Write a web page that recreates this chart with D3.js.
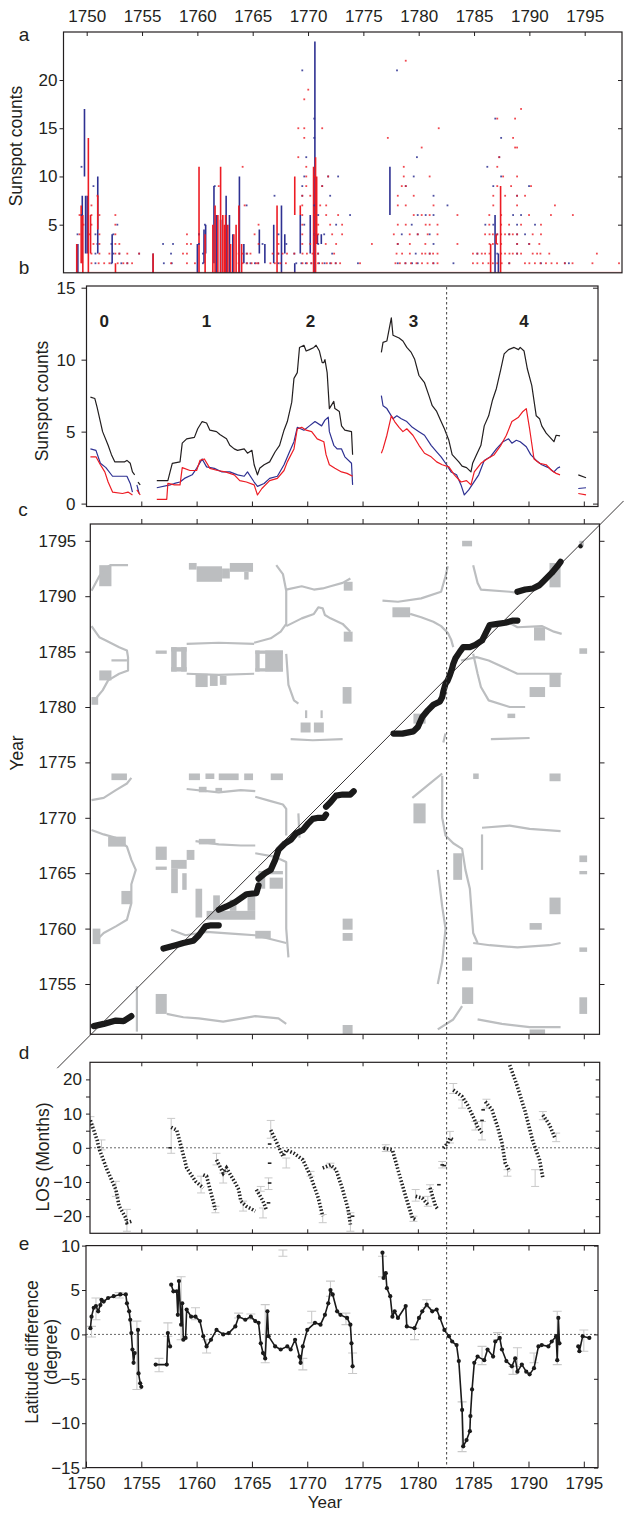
<!DOCTYPE html>
<html><head><meta charset="utf-8">
<script src="https://cdn.jsdelivr.net/npm/d3@7"></script>
<style>
body{margin:0;background:#fff}
svg{display:block}
text{font-family:"Liberation Sans",Arial,sans-serif;fill:#231f20}
</style></head>
<body><svg id="chart" width="624" height="1513"></svg>
<script>
// ---------------- DATA ----------------
const yearTicks = [1750,1755,1760,1765,1770,1775,1780,1785,1790,1795];
const innerYearTicks = [1755,1760,1765,1770,1775,1780,1785,1790,1795];
const cycleLabels = [["0",1751.65],["1",1760.9],["2",1770.3],["3",1779.6],["4",1789.6]];
const dividerYear = 1782.6;

// panel a: vertical spans [year, from, to]
const blueSpans = [[1749.2,0,3],[1749.6,1,8],[1749.8,10,17],[1749.9,2,8],[1750.05,2,8],[1751.0,2,10],[1752.3,1,4],[1756.0,0,2],[1760.0,0,3],[1760.6,1,4.5],[1760.75,2,5],[1761.5,1,9],[1761.7,0,6],[1762.1,0,5.5],[1762.6,0,8],[1762.9,0,6],[1763.2,0,4],[1763.8,0,10],[1764.2,1,3],[1765.6,2,4.5],[1766.1,1,3],[1766.9,1,5],[1767.6,0,7],[1767.9,2,4],[1768.8,0,1],[1769.3,2,6],[1770.2,2,6],[1770.62,0,24],[1770.85,3,4],[1771.2,3,4],[1777.4,6,11],[1786.9,0,6],[1787.2,0,2]];
const redSpans = [[1749.1,0,3],[1749.5,1,7],[1749.65,0,6],[1750.15,0,14],[1750.35,2,6],[1751.0,4.5,8],[1752.6,0,1],[1756.0,0,2],[1760.15,0,11],[1760.7,0,4],[1761.4,0,5],[1761.6,0,7],[1761.85,0,6],[1762.1,0,11],[1762.3,0,6],[1762.45,0,5],[1762.55,0,6],[1762.75,0,5],[1763.0,0,3],[1763.3,0,4],[1763.5,0,5],[1763.75,0,7],[1764.0,0,3],[1767.2,0,7],[1768.8,6,10],[1769.3,6,7],[1770.5,0,11],[1770.68,0,12],[1770.78,3,10],[1786.5,0,3],[1787.0,3,4],[1787.4,0,9]];
// panel a: single counts [year, count]
const redDots = [
[1750.43,1],[1751.08,1],[1751.58,1],[1752.05,1],[1752.8,1],[1753.31,1],[1753.67,1],[1754.1,1],[1757.62,1],[1759.06,1],[1759.78,1],[1763.73,1],[1764.1,1],[1764.5,1],[1764.9,1],[1765.3,1],[1765.5,1],[1766.6,1],[1767.0,1],[1767.5,1],[1768.0,1],[1769.5,1],[1769.9,1],[1770.3,1],[1770.9,1],[1771.3,1],[1771.7,1],[1772.1,1],[1772.5,1],[1772.9,1],[1774.7,1],[1777.9,1],[1778.3,1],[1778.8,1],[1779.3,1],[1779.8,1],[1780.3,1],[1780.8,1],[1781.3,1],[1781.7,1],[1784.9,1],[1785.3,1],[1785.8,1],[1786.3,1],[1786.7,1],[1787.1,1],[1787.5,1],[1788.2,1],[1789.6,1],[1790.0,1],[1790.5,1],[1791.0,1],[1791.5,1],[1792.0,1],[1792.5,1],[1793.2,1],[1793.9,1],[1795.7,1],[1798.1,1],
[1750.43,2],[1751.15,2],[1752.05,2],[1752.59,2],[1752.95,2],[1753.67,2],[1754.74,2],[1758.7,2],[1759.06,2],[1763.73,2],[1764.1,2],[1764.5,2],[1764.8,2],[1766.8,2],[1767.3,2],[1767.7,2],[1768.1,2],[1768.76,2],[1769.5,2],[1769.9,2],[1770.4,2],[1770.9,2],[1772.36,2],[1778.0,2],[1778.5,2],[1779.2,2],[1780.3,2],[1780.6,2],[1781.0,2],[1781.3,2],[1781.7,2],[1784.9,2],[1785.3,2],[1785.7,2],[1786.0,2],[1786.4,2],[1787.45,2],[1787.8,2],[1788.2,2],[1788.5,2],[1788.9,2],[1789.25,2],[1790.3,2],[1790.7,2],[1791.0,2],[1791.8,2],[1796.1,2],
[1750.61,3],[1751.15,3],[1752.59,3],[1752.95,3],[1759.06,3],[1759.42,3],[1765.53,3],[1767.33,3],[1769.48,3],[1770.2,3],[1771.6,3],[1772.54,3],[1775.77,3],[1778.1,3],[1779.2,3],[1780.6,3],[1783.5,3],[1786.4,3],[1786.7,3],[1787.1,3],[1787.45,3],[1788.9,3],[1790.0,3],[1790.9,3],
[1749.35,4],[1750.25,4],[1751.15,4],[1752.59,4],[1759.06,4],[1760.14,4],[1765.17,4],[1769.48,4],[1770.56,4],[1770.92,4],[1772.18,4],[1773.08,4],[1777.75,4],[1779.19,4],[1779.91,4],[1780.81,4],[1781.7,4],[1786.0,4],[1786.4,4],[1786.7,4],[1787.1,4],[1787.45,4],[1787.8,4],[1788.2,4],[1788.5,4],[1788.9,4],[1790.3,4],[1791.05,4],
[1749.71,5],[1750.43,5],[1752.59,5],[1765.53,5],[1769.48,5],[1770.92,5],[1772.0,5],[1773.08,5],[1778.11,5],[1778.83,5],[1780.63,5],[1780.99,5],[1781.7,5],[1786.38,5],[1787.45,5],[1788.17,5],[1789.25,5],[1791.05,5],
[1749.35,6],[1750.43,6],[1751.15,6],[1752.59,6],[1769.48,6],[1770.56,6],[1771.64,6],[1772.72,6],[1779.55,6],[1780.27,6],[1780.99,6],[1783.5,6],[1786.38,6],[1787.45,6],[1789.97,6],[1791.95,6],[1793.93,6],
[1750.43,7],[1764.27,7],[1769.48,7],[1771.1,7],[1771.64,7],[1778.11,7],[1778.83,7],[1781.34,7],[1786.74,7],[1788.89,7],[1792.31,7],
[1750.97,8],[1769.48,8],[1770.2,8],[1778.11,8],[1779.55,8],[1786.74,8],[1787.81,8],[1788.89,8],[1789.61,8],
[1761.93,9],[1769.84,9],[1771.28,9],[1778.47,9],[1778.83,9],[1787.1,9],[1788.35,9],[1790.15,9],
[1769.84,10],[1770.56,10],[1771.82,10],[1778.65,10],[1780.99,10],[1787.63,10],[1788.89,10],
[1764.09,11],[1769.84,11],[1778.65,11],[1787.1,11],
[1769.12,12],[1787.28,12],[1780.27,13],[1788.71,13],[1788.89,13],[1769.66,14],[1777.21,14],[1788.53,14],
[1769.12,15],[1769.66,15],[1771.28,15],[1781.81,15],[1787.1,16],[1788.71,16],[1789.25,17],[1769.66,18],[1770.02,19],[1778.83,22]];
const blueDots = [
[1750.79,1],[1752.23,1],[1753.13,1],[1753.67,1],[1756.97,1],[1757.69,1],[1760.5,1],[1764.45,1],[1764.8,1],[1765.2,1],[1765.5,1],[1767.33,1],[1768.94,1],[1769.4,1],[1769.8,1],[1770.3,1],[1771.0,1],[1771.5,1],[1772.0,1],[1772.5,1],[1774.51,1],[1778.11,1],[1778.8,1],[1779.4,1],[1779.91,1],[1781.34,1],[1783.14,1],[1788.17,1],[1791.05,1],[1793.21,1],[1793.57,1],
[1750.79,2],[1752.41,2],[1752.95,2],[1754.74,2],[1757.62,2],[1760.5,2],[1764.45,2],[1767.33,2],[1768.76,2],[1770.92,2],[1772.18,2],[1779.73,2],[1780.99,2],[1785.3,2],[1787.1,2],[1788.89,2],
[1750.97,3],[1752.23,3],[1756.9,3],[1757.8,3],[1760.14,3],[1765.89,3],[1768.04,3],[1770.92,3],[1778.11,3],[1781.34,3],[1788.89,3],[1789.97,3],
[1749.17,4],[1750.79,4],[1752.41,4],[1760.14,4],[1767.33,4],[1770.56,4],[1771.46,4],[1778.47,4],[1779.91,4],[1780.99,4],[1787.1,4],[1788.17,4],[1788.89,4],[1789.61,4],
[1752.77,5],[1760.68,5],[1769.66,5],[1772.54,5],[1779.37,5],[1786.02,5],[1786.74,5],[1788.89,5],[1790.51,5],
[1749.53,6],[1770.92,6],[1773.8,6],[1779.91,6],[1780.63,6],[1781.34,6],[1788.53,6],[1789.25,6],
[1764.45,7],[1770.56,7],[1782.6,7],[1766.97,8],[1769.48,8],[1772.0,8],[1781.34,8],[1788.89,8],
[1750.61,9],[1761.57,9],[1769.48,9],[1771.28,9],[1778.83,9],[1786.74,9],[1789.97,9],
[1769.66,10],[1771.82,10],[1772.72,10],[1779.55,10],[1787.45,10],[1749.53,11],[1786.2,11],
[1769.84,12],[1779.84,12],[1787.28,12],[1770.56,14],[1787.45,14],[1770.56,16],[1786.92,16],[1769.48,21],[1778.04,21]];

// panel b: running counts, one sub-array per unbroken stretch
const totalCounts = [
[[1750.4,7.4],[1750.8,7.3],[1751.0,6.7],[1751.5,5.0],[1752.0,4.05],[1752.3,3.4],[1752.6,2.9],[1753.5,2.9],[1753.7,3.0],[1754.0,2.8],[1754.2,2.2],[1754.4,2.0]],
[[1754.7,1.5],[1754.9,1.3]],
[[1756.4,1.6],[1757.4,1.6],[1757.6,2.2],[1757.8,2.8],[1758.5,2.9],[1758.7,4.2],[1759.1,4.5],[1759.8,4.6],[1760.1,5.2],[1760.5,5.7],[1760.9,5.6],[1761.2,5.1],[1761.8,5.0],[1762.1,4.8],[1762.7,4.5],[1763.0,4.05],[1763.4,3.8],[1763.7,3.7],[1764.3,3.8],[1764.6,3.5],[1765.0,3.7],[1765.2,2.7],[1765.5,2.0],[1765.7,2.45],[1766.1,2.7],[1766.6,2.9],[1767.1,3.6],[1767.5,4.05],[1767.9,5.1],[1768.2,5.7],[1768.6,7.05],[1768.8,8.7],[1769.1,9.1],[1769.3,10.85],[1769.7,11.0],[1769.9,10.6],[1770.2,10.7],[1770.6,10.85],[1770.8,11.0],[1771.1,10.6],[1771.35,9.8],[1771.5,9.8],[1771.6,10.0],[1771.8,9.1],[1772.0,6.6],[1772.4,7.1],[1772.5,6.6],[1772.9,6.4],[1773.1,5.4],[1773.4,5.1],[1774.0,5.0],[1774.1,3.4]],
[[1776.7,10.5],[1776.85,11.2],[1777.2,11.3],[1777.4,12.1],[1777.6,12.9],[1777.75,11.7],[1778.3,11.5],[1778.65,11.3],[1779.0,10.85],[1779.4,10.5],[1779.7,10.05],[1780.1,8.9],[1780.3,8.7],[1780.6,8.4],[1781.0,7.5],[1781.3,6.8],[1781.7,6.4],[1782.1,5.7],[1782.4,5.2],[1782.8,4.4],[1783.1,3.4],[1783.7,2.9],[1784.0,2.6],[1784.4,2.5],[1784.8,2.2],[1784.95,2.8],[1785.3,3.4],[1785.7,4.05],[1786.0,5.4],[1786.4,6.1],[1786.75,7.2],[1787.1,8.0],[1787.5,9.35],[1787.8,10.4],[1788.2,10.7],[1788.7,10.85],[1789.1,10.7],[1789.25,10.85],[1789.6,10.6],[1789.9,9.35],[1790.3,8.2],[1790.7,6.1],[1791.0,5.9],[1791.2,5.4],[1791.6,4.9],[1791.95,4.6],[1792.3,4.3],[1792.5,4.75],[1792.85,4.7]],
[[1794.5,2.0],[1795.2,1.8]]];
const northCounts = [
[[1750.4,3.8],[1750.9,3.7],[1751.3,2.8],[1751.8,2.5],[1752.4,1.9],[1753.7,1.9],[1754.0,1.4],[1754.2,0.8]],
[[1754.6,1.3],[1754.8,0.7]],
[[1756.4,1.1],[1757.6,1.3],[1758.0,1.4],[1758.5,1.5],[1758.9,1.75],[1759.6,2.0],[1760.0,2.45],[1760.5,3.1],[1760.9,2.55],[1761.6,2.45],[1762.3,2.2],[1763.0,2.2],[1763.7,2.0],[1764.3,1.9],[1764.6,2.2],[1765.2,1.5],[1765.5,1.2],[1766.1,1.4],[1766.6,1.75],[1767.3,1.9],[1767.9,2.7],[1768.4,3.6],[1768.8,4.3],[1769.1,5.3],[1769.7,5.1],[1770.2,5.4],[1770.7,5.7],[1771.3,5.4],[1771.6,5.8],[1771.9,6.0],[1772.0,5.0],[1772.4,4.05],[1772.7,3.8],[1773.1,3.8],[1773.4,3.25],[1774.0,2.8],[1774.1,1.3]],
[[1776.7,7.5],[1776.85,6.8],[1777.2,6.6],[1777.75,5.9],[1778.1,6.1],[1778.5,5.9],[1779.0,5.7],[1779.5,5.3],[1780.1,5.0],[1780.6,4.75],[1781.2,4.05],[1781.7,3.6],[1782.1,3.25],[1782.6,2.7],[1783.0,2.2],[1783.5,2.0],[1783.9,1.3],[1784.2,0.6],[1784.6,0.95],[1784.9,1.3],[1785.5,2.0],[1786.0,3.0],[1786.55,3.25],[1787.1,3.8],[1787.7,4.3],[1788.2,4.5],[1788.5,4.2],[1788.9,4.4],[1789.25,4.3],[1789.8,3.95],[1790.2,3.4],[1790.7,3.0],[1791.2,2.7],[1791.8,2.5],[1792.3,2.2],[1792.6,2.45],[1792.85,2.55]],
[[1794.5,1.05],[1795.2,1.1]]];
const southCounts = [
[[1750.4,3.25],[1750.9,3.25],[1751.3,2.7],[1751.7,2.2],[1752.0,1.5],[1752.4,0.8],[1753.3,0.7],[1753.8,0.8],[1754.2,0.6]],
[[1754.6,0.95],[1754.9,0.6]],
[[1756.4,0.3],[1757.3,0.3],[1757.4,1.4],[1758.0,1.3],[1758.5,1.3],[1758.7,2.5],[1759.4,2.3],[1760.0,2.3],[1760.3,3.0],[1760.7,3.1],[1761.2,2.45],[1761.9,2.3],[1762.6,2.2],[1763.4,2.0],[1763.9,1.6],[1764.5,1.5],[1765.2,1.3],[1765.5,0.6],[1765.9,1.05],[1766.6,1.6],[1767.3,1.75],[1767.9,2.3],[1768.2,2.9],[1768.8,3.8],[1769.1,5.2],[1769.5,5.3],[1769.9,5.1],[1770.4,5.0],[1770.9,4.5],[1771.5,4.3],[1771.7,3.4],[1772.0,2.7],[1772.5,2.45],[1773.1,2.2],[1773.6,2.1],[1774.1,1.9]],
[[1776.7,3.5],[1776.85,3.8],[1777.2,4.75],[1777.6,6.1],[1777.9,5.7],[1778.3,5.3],[1778.65,5.0],[1779.0,5.2],[1779.55,4.75],[1780.1,4.05],[1780.6,3.5],[1781.2,3.25],[1781.7,2.9],[1782.2,2.7],[1782.8,2.55],[1783.3,2.0],[1783.9,1.5],[1784.4,1.6],[1784.8,1.3],[1785.1,2.2],[1785.7,2.8],[1786.25,3.1],[1786.9,3.4],[1787.5,4.05],[1788.0,4.75],[1788.5,5.7],[1789.1,6.0],[1789.5,6.4],[1789.8,6.6],[1790.1,5.2],[1790.5,3.1],[1791.0,2.8],[1791.6,2.7],[1792.1,2.3],[1792.5,2.1],[1792.85,2.0]],
[[1794.5,0.7],[1795.2,0.6]]];

// panel c: grey regions (year x, year y)
const greyCurves = [
[[1750.5,1790.5],[1751.2,1791.8],[1751.8,1792.5],[1752.2,1792.8],[1753.8,1792.8]],
[[1750.5,1787.3],[1751.2,1786.3],[1751.8,1786.0],[1753.0,1785.4],[1753.7,1785.1],[1753.8,1784.5],[1753.8,1783.3],[1753.0,1783.0],[1752.0,1782.4],[1751.5,1781.5],[1751.0,1780.9],[1750.7,1780.3]],
[[1752.3,1784.2],[1753.7,1784.2]],
[[1759.1,1785.7],[1762.0,1785.8],[1765.2,1785.7]],
[[1759.1,1783.0],[1762.0,1782.9],[1765.2,1783.0]],
[[1765.2,1785.8],[1766.7,1786.2],[1767.6,1786.8],[1768.1,1787.5],[1768.1,1790.5],[1767.8,1792.0],[1767.2,1792.8]],
[[1768.1,1790.6],[1769.5,1790.9],[1770.6,1790.6],[1771.4,1790.7],[1772.1,1790.9],[1773.2,1791.2],[1773.9,1791.6]],
[[1768.1,1787.3],[1769.5,1788.0],[1770.6,1788.4],[1771.0,1789.0],[1771.4,1788.9],[1771.6,1788.3],[1772.1,1788.0],[1773.2,1787.5],[1773.9,1786.8]],
[[1768.1,1784.8],[1768.3,1782.0],[1768.8,1780.6],[1769.2,1780.3]],
[[1768.5,1777.1],[1770.5,1777.0],[1773.2,1777.1]],
[[1776.8,1789.6],[1778.2,1789.5],[1780.3,1789.8],[1782.1,1790.4],[1782.5,1791.8],[1782.7,1792.7]],
[[1779.3,1788.4],[1780.3,1788.1],[1781.4,1787.7],[1782.1,1787.3],[1782.7,1786.7],[1783.0,1786.1],[1783.2,1785.4]],
[[1785.0,1792.8],[1785.4,1791.2],[1785.7,1790.6],[1788.3,1790.4],[1789.0,1790.3]],
[[1787.9,1787.8],[1789.0,1787.2],[1791.2,1787.3],[1792.3,1786.8],[1793.0,1786.6]],
[[1783.9,1784.2],[1785.3,1784.5],[1786.4,1784.2],[1789.0,1783.0],[1791.8,1783.0],[1793.0,1783.0]],
[[1785.0,1784.8],[1785.4,1783.0],[1785.7,1781.8],[1786.4,1780.6],[1788.3,1780.0],[1789.7,1780.0]],
[[1786.6,1777.1],[1790.1,1777.2]],
[[1782.3,1776.8],[1782.5,1777.6]],
[[1750.5,1771.6],[1751.6,1771.8],[1752.7,1772.5],[1753.7,1773.1],[1754.1,1773.6]],
[[1759.1,1772.6],[1762.0,1772.3],[1764.0,1772.5],[1765.3,1772.4]],
[[1765.3,1771.9],[1766.7,1771.5],[1767.8,1771.2],[1768.1,1770.8],[1768.1,1768.4]],
[[1769.2,1770.4],[1769.3,1768.2]],
[[1750.5,1768.9],[1751.6,1768.5],[1752.7,1768.2],[1753.7,1767.4],[1754.1,1766.2],[1754.5,1765.3],[1754.1,1764.0],[1754.1,1762.3],[1753.7,1760.8],[1752.7,1760.2],[1751.6,1759.6],[1751.1,1759.1],[1751.1,1758.6]],
[[1759.9,1767.9],[1762.0,1767.6],[1764.0,1767.5],[1765.3,1767.5]],
[[1765.3,1766.8],[1767.0,1766.5],[1768.1,1766.0],[1768.1,1760.0],[1768.3,1757.4]],
[[1757.7,1759.9],[1759.0,1759.4],[1760.9,1759.7],[1763.8,1759.5],[1765.3,1759.4],[1768.1,1758.7]],
[[1757.3,1752.3],[1758.8,1752.0],[1760.2,1751.9],[1762.4,1751.6],[1765.3,1752.1],[1767.4,1751.9],[1768.1,1751.4]],
[[1779.5,1771.8],[1781.1,1773.1],[1782.2,1774.0]],
[[1782.2,1773.8],[1782.2,1770.0],[1782.5,1768.4],[1783.2,1767.7],[1784.0,1767.2],[1784.3,1765.3],[1784.7,1763.6],[1785.0,1759.6],[1785.4,1758.7]],
[[1781.8,1765.3],[1782.2,1762.0],[1782.5,1760.0],[1782.2,1757.0],[1781.8,1755.0]],
[[1785.8,1769.1],[1788.3,1769.3],[1790.1,1769.0],[1792.9,1768.8]],
[[1785.8,1768.5],[1785.8,1765.3]],
[[1785.0,1758.7],[1786.5,1758.5],[1789.0,1758.3],[1791.9,1758.5],[1792.9,1758.7]],
[[1781.8,1750.9],[1783.2,1751.8],[1784.0,1753.0]],
[[1785.4,1751.8],[1787.6,1751.4],[1790.1,1751.1],[1792.9,1751.1]]];
// [x0, x1, y0, y1] in years
const greyBlocks = [
[1751.2,1752.3,1790.9,1792.8],[1751.2,1752.3,1782.4,1783.3],[1750.5,1751.1,1780.2,1780.9],[1756.3,1757.3,1784.8,1785.1],
[1757.7,1758.2,1783.2,1785.4],[1758.6,1759.1,1783.2,1785.4],[1757.7,1759.1,1785.0,1785.4],[1757.7,1759.1,1783.2,1783.6],
[1759.9,1761.0,1781.8,1783.0],[1761.2,1761.9,1781.9,1782.9],[1762.1,1762.7,1782.0,1782.8],
[1765.3,1765.7,1783.2,1785.1],[1766.2,1767.8,1783.2,1785.1],[1765.3,1767.8,1784.8,1785.1],[1765.3,1767.8,1783.2,1783.5],
[1759.3,1760.0,1792.4,1793.0],[1760.0,1762.3,1791.3,1792.7],[1762.3,1763.0,1791.6,1792.5],[1763.0,1765.1,1792.2,1793.0],[1764.3,1764.7,1791.5,1792.2],
[1773.3,1774.1,1790.5,1791.3],[1773.3,1774.1,1785.9,1786.8],[1773.2,1774.0,1780.3,1781.8],
[1769.4,1770.3,1777.7,1778.6],[1770.6,1771.5,1777.7,1778.6],[1769.8,1770.0,1779.0,1779.7],[1771.2,1771.4,1779.0,1779.7],
[1777.7,1779.3,1788.1,1789.0],[1784.0,1784.9,1794.5,1795.0],[1791.9,1792.9,1790.8,1793.0],[1790.5,1791.5,1786.0,1787.2],
[1790.1,1791.5,1780.9,1781.8],[1791.9,1792.9,1781.8,1783.0],[1788.1,1788.8,1779.0,1779.4],[1794.6,1795.3,1784.8,1785.3],[1794.6,1795.0,1794.5,1795.0],
[1779.6,1780.7,1778.5,1779.4],
[1752.3,1753.7,1773.4,1774.0],[1759.3,1760.3,1773.4,1774.0],[1760.8,1761.6,1773.5,1774.0],[1762.0,1763.8,1773.4,1774.0],[1764.3,1765.1,1773.4,1774.0],[1766.7,1767.8,1773.4,1774.0],[1791.9,1792.9,1773.3,1774.0],[1785.0,1785.5,1773.5,1774.0],
[1760.2,1760.9,1772.3,1772.8],[1761.7,1762.3,1772.4,1772.7],
[1752.0,1753.6,1767.4,1768.3],[1753.2,1754.1,1762.2,1763.4],[1750.6,1751.3,1758.6,1760.0],
[1756.3,1757.3,1766.2,1767.4],[1756.3,1757.3,1765.3,1765.6],
[1757.7,1759.1,1765.4,1766.2],[1757.7,1758.3,1763.2,1765.4],[1758.7,1759.1,1763.5,1765.0],[1759.1,1759.8,1766.2,1767.1],
[1760.2,1761.7,1767.6,1768.1],
[1759.9,1760.5,1761.0,1763.6],[1760.9,1765.3,1760.8,1761.6],[1761.5,1762.1,1761.6,1763.0],[1763.0,1763.6,1761.6,1762.6],[1764.6,1765.3,1761.6,1763.4],
[1765.6,1766.2,1763.6,1765.2],[1766.6,1767.8,1763.6,1764.6],[1765.6,1767.8,1764.9,1765.2],
[1765.3,1766.7,1759.1,1759.8],[1773.2,1774.1,1759.9,1760.9],[1773.2,1774.1,1758.9,1759.6],
[1756.3,1757.3,1752.3,1754.1],[1754.5,1754.7,1750.7,1754.8],[1773.2,1774.1,1750.5,1751.3],
[1779.6,1780.7,1769.5,1771.3],[1783.2,1784.0,1764.4,1766.8],
[1790.1,1791.2,1759.9,1760.5],[1791.9,1792.9,1761.3,1762.8],
[1784.0,1784.9,1756.2,1757.4],[1784.0,1785.0,1753.2,1754.7],
[1794.6,1795.3,1766.0,1766.6],[1794.6,1795.3,1764.9,1765.2],[1794.6,1795.3,1757.9,1758.3],[1794.6,1795.3,1752.3,1753.8],[1790.1,1791.5,1750.5,1750.9]];
// panel c: black path segments (year x, year y)
const matchPath = [
[[1750.7,1751.2],[1751.6,1751.4],[1752.7,1751.7],[1753.4,1751.65],[1754.1,1752.1]],
[[1757.0,1758.2],[1758.1,1758.5],[1758.8,1758.7],[1759.7,1758.9],[1760.2,1759.4],[1760.8,1760.2],[1761.3,1760.3],[1762.0,1760.3]],
[[1762.0,1761.7],[1762.7,1762.0],[1763.5,1762.4],[1764.5,1763.1],[1765.4,1763.2],[1765.6,1763.9]],
[[1765.6,1764.5],[1766.2,1765.0],[1766.7,1765.3],[1767.1,1766.2],[1767.4,1767.1],[1768.0,1767.7],[1768.5,1768.0],[1769.0,1768.6],[1769.6,1768.9],[1770.1,1769.5],[1770.5,1769.9],[1771.0,1770.0],[1771.5,1770.0],[1771.7,1770.3]],
[[1771.7,1771.0],[1772.1,1771.4],[1772.6,1772.0],[1773.2,1772.1],[1773.9,1772.1],[1774.2,1772.4]],
[[1777.8,1777.6],[1778.6,1777.6],[1779.6,1777.8],[1780.0,1778.2],[1780.4,1779.1],[1780.9,1779.7],[1781.4,1780.2],[1782.0,1780.5],[1782.2,1780.9],[1782.3,1781.4],[1782.5,1782.1],[1782.7,1782.4],[1782.9,1782.9],[1783.1,1783.5],[1783.2,1783.9],[1783.4,1784.4],[1783.8,1785.0],[1784.1,1785.4],[1784.7,1785.4],[1785.2,1785.6],[1785.8,1786.0],[1786.1,1786.6],[1786.5,1787.4],[1787.2,1787.5],[1787.9,1787.6],[1788.6,1787.8],[1789.0,1787.8]],
[[1789.0,1790.4],[1789.7,1790.6],[1790.4,1790.7],[1791.0,1791.0],[1791.5,1791.5],[1792.1,1792.1],[1792.6,1792.7],[1792.9,1793.1]],
[[1794.7,1794.5]]];
const diagonalYears = [1747.4,1798.6];

// panel d: LOS (months)
const losRuns = [
[[1750.4,8.0],[1751.0,2.3],[1751.2,-0.4],[1751.9,-6.4],[1752.7,-12.2],[1753.0,-17.1],[1753.6,-20.5],[1753.7,-21.9],[1754.1,-21.5]],
[[1757.7,6.0],[1758.2,5.2],[1758.6,0.4],[1759.1,-5.9],[1759.9,-9.8],[1760.6,-11.7]],
[[1760.6,-7.9],[1760.9,-8.3],[1761.7,-18.1]],
[[1761.8,-3.5],[1762.4,-7.4],[1762.7,-5.9],[1763.5,-10.3],[1763.8,-12.2],[1764.0,-15.6],[1764.5,-17.1],[1765.3,-18.5]],
[[1765.4,-12.2],[1766.0,-15.6],[1766.3,-18.1]],
[[1766.7,5.2],[1767.2,1.8],[1767.8,-2.5],[1768.1,-0.6],[1768.8,-1.6],[1769.6,-3.5],[1770.3,-8.3],[1771.0,-14.7],[1771.4,-20.0]],
[[1771.4,-5.9],[1772.1,-5.0],[1772.6,-6.4],[1773.2,-12.2],[1773.7,-18.1],[1773.9,-22.4]],
[[1776.9,-0.1],[1777.7,-0.6],[1778.2,-6.4],[1778.9,-14.2],[1779.5,-20.5],[1779.8,-21.0]],
[[1779.8,-14.2],[1780.4,-14.7],[1780.9,-16.6]],
[[1781.1,-11.7],[1781.6,-17.1],[1781.8,-17.9]],
[[1782.3,-0.1],[1782.7,1.4],[1782.9,2.8],[1783.2,2.3]],
[[1783.2,16.9],[1784.0,15.0],[1784.5,12.5],[1785.0,9.1],[1785.4,6.2],[1785.8,4.3]],
[[1786.1,13.5],[1786.7,11.1],[1787.2,6.2],[1787.6,1.4],[1787.9,-4.5],[1788.3,-6.9]],
[[1788.3,24.2],[1789.0,17.9],[1789.7,10.6],[1790.4,1.8],[1791.0,-3.5],[1791.3,-8.8]],
[[1791.3,9.6],[1791.9,6.7],[1792.4,2.8]]];
const losSingles = [[1757.6,0],[1766.5,-16.1],[1766.6,-10.3],[1766.6,-4.5],[1766.6,1.1],[1774.1,-20.0],[1781.9,-10.8],[1782.2,-5.0],[1782.4,-5.2],[1785.8,8.0],[1785.9,11.1]];
const losErrors = [[1750.4,6.7,9.1],[1751.4,-0.6,2.3],[1752.7,-14.2,-9.8],[1753.7,-24.4,-18],[1757.7,-1.6,8.6],[1760.4,-13.2,-8.3],[1761.7,-19,-17.1],[1761.8,-5.0,-1.6],[1762.4,-10.3,-7.4],[1764.2,-18.5,-15.6],[1765.8,-12.7,-11.3],[1766.0,-20.5,-17.6],[1766.5,-12.2,-8.8],[1766.7,2.8,8.0],[1768.1,-5.9,-3.0],[1770.3,-8.3,-6.9],[1771.4,-21.9,-19.5],[1772.1,-5.9,-4.5],[1773.9,-24.4,-19],[1777.1,-1.1,0.9],[1779.6,-21.5,-20],[1779.8,-15.6,-12.2],[1780.9,-17.1,-14.2],[1781.1,-12.2,-10.8],[1782.2,-5.9,-4.0],[1782.9,1.4,4.8],[1783.2,15.9,18.8],[1784.0,11.6,14.0],[1785.2,5.2,7.7],[1785.8,2.3,7.7],[1786.2,11.6,14.2],[1788.1,-8.3,-6.4],[1790.6,-11.3,-6.4],[1791.3,8.2,10.6],[1792.5,1.8,4.3]];

// panel e: latitude difference (degree)
const latRuns = [
[[1750.4,0.7],[1750.5,2.0],[1750.7,3.0],[1750.9,3.2],[1751.1,2.6],[1751.3,3.3],[1751.4,3.9],[1751.6,3.7],[1752.0,4.1],[1752.5,4.3],[1753.1,4.5],[1753.6,4.5],[1753.7,3.5],[1753.9,2.6],[1754.0,1.65],[1754.1,0.15],[1754.2,-1.7],[1754.3,-3.2],[1754.4,-2.1]],
[[1754.7,0.5],[1754.75,-4.4],[1754.9,-5.5],[1755.0,-5.9]],
[[1756.3,-3.4],[1757.3,-3.4],[1757.4,0.15],[1757.6,-1.35]],
[[1757.7,5.6],[1757.9,4.85],[1758.2,4.85],[1758.3,2.2],[1758.4,6.0],[1758.6,1.1],[1758.7,3.5],[1758.8,-0.6],[1759.0,-0.4],[1759.1,2.8],[1759.5,2.0],[1759.9,2.0],[1760.3,1.5],[1760.6,-0.2],[1760.9,-1.35],[1761.3,-0.6],[1761.8,0.5],[1762.4,0],[1762.9,0.15],[1763.5,0.9],[1763.8,2.0],[1764.4,1.65],[1764.9,2.0],[1765.3,1.5],[1765.6,1.3],[1765.8,-1.0],[1766.0,-2.1],[1766.2,-2.7],[1766.4,2.6],[1766.5,-0.2],[1767.1,-1.35],[1767.6,-1.7],[1768.2,-1.35],[1768.5,-1.7],[1768.9,-0.6],[1769.3,-2.5],[1769.4,-3.2],[1769.6,-1.35],[1770.0,0.5],[1770.7,1.3],[1771.2,1.1],[1771.6,2.2],[1771.9,3.5],[1772.1,5.0],[1772.3,4.5],[1772.7,2.6],[1773.0,2.2],[1773.6,1.85],[1773.9,1.1],[1774.0,-1.0],[1774.1,-3.6]],
[[1776.8,9.2],[1776.9,6.35],[1777.1,6.9],[1777.2,5.2],[1777.5,4.3],[1777.7,2.0],[1777.9,2.6],[1778.2,1.85],[1778.9,3.2],[1779.0,0.9],[1779.7,0.7],[1780.1,1.85],[1780.4,2.6],[1780.8,3.35],[1781.3,2.6],[1781.7,2.8],[1782.0,1.85],[1782.4,0.5],[1782.8,-0.2],[1783.1,-0.8],[1783.5,-1.2],[1783.7,-3.0],[1784.0,-8.5],[1784.1,-12.6],[1784.4,-11.9],[1784.7,-10.9],[1784.75,-9.2],[1784.9,-6.2],[1785.1,-3.2],[1785.4,-2.5],[1786.0,-2.9],[1786.3,-1.7],[1786.8,-2.5],[1787.0,-0.8],[1787.4,-0.4],[1787.6,-1.7],[1788.0,-3.0],[1788.5,-3.6],[1788.8,-2.7],[1789.0,-4.2],[1789.4,-3.4],[1789.8,-4.2],[1790.1,-4.5],[1790.5,-3.8],[1790.9,-1.35],[1791.2,-1.2],[1791.8,-1.35],[1792.1,-0.8],[1792.5,-0.2],[1792.6,-2.9],[1792.7,1.85],[1792.8,-1.0]],
[[1794.5,-1.35],[1794.6,-1.9],[1794.9,-0.2],[1795.5,-0.4]]];
const latErrors = [[1750.5,-0.3,0.9],[1750.9,1.65,4.1],[1753.0,4.1,4.7],[1754.6,-6.2,1.5],[1756.6,-4.2,-2.7],[1757.4,-0.2,1.3],[1758.6,-0.6,6.5],[1759.9,1.65,3.0],[1760.9,-2.1,-0.6],[1763.8,1.85,2.4],[1764.9,1.7,2.3],[1766.2,-3.2,3.35],[1767.8,8.8,9.5],[1769.6,-4.0,-2.7],[1770.4,1.3,2.6],[1772.1,4.3,6.0],[1773.5,1.1,2.4],[1774.1,-4.4,-2.1],[1776.8,6.5,8.8],[1779.7,-0.6,0.7],[1780.8,3.0,3.9],[1784.0,-13.2,-7.6],[1785.8,-3.4,-1.35],[1787.2,-0.6,0.2],[1788.6,-4.5,-3.6],[1789.0,-3.6,-1.5],[1790.5,-3.2,-2.1],[1792.6,-3.4,2.6],[1795.0,-1.9,0.5]];

// ---------------- DRAWING ----------------
const ink = "#231f20", blue = "#2e3192", red = "#ed1c24", grey = "#bcbec0", errGrey = "#c9c9c9";
const FONT = '"Liberation Sans", Arial, sans-serif';
const svg = d3.select("#chart");

const x = d3.scaleLinear().domain([1750,1795]).range([86,583.8]);
const xa = d3.scaleLinear().domain([1750,1795]).range([86.7,584.7]);

const pa = {l:63.5, r:622, t:32, b:272.8};
const pb = {l:86.5, r:598, t:286, b:506.5};
const pc = {l:90.3, r:599.5, t:524, b:1034.3};
const pd = {l:90, r:599.7, t:1062.3, b:1233.3};
const pe = {l:86, r:598, t:1245.6, b:1467.6};

const ya = d3.scaleLinear().domain([0,25]).range([272.9,31.8]);
const yb = d3.scaleLinear().domain([0,15]).range([503.6,287.7]);
const yc = d3.scaleLinear().domain([1750,1795]).range([1039.4,540.8]);
const yd = d3.scaleLinear().domain([-25,25]).range([1233.3,1062.3]);
const ye = d3.scaleLinear().domain([-15,10]).range([1467.6,1245.6]);

const defs = svg.append("defs");
function clip(id,p){ defs.append("clipPath").attr("id",id).append("rect").attr("x",p.l).attr("y",p.t).attr("width",p.r-p.l).attr("height",p.b-p.t); }
clip("ca",pa); clip("cb",pb); clip("cc",pc); clip("cd",pd); clip("ce",pe);

function styleAxis(g, fs){
  g.select(".domain").remove();
  g.attr("font-size",fs).attr("font-family",FONT);
  g.selectAll("line").attr("stroke",ink).attr("stroke-width",1);
  g.selectAll("text").attr("fill",ink);
}
function frame(p){
  svg.append("rect").attr("x",p.l).attr("y",p.t).attr("width",p.r-p.l).attr("height",p.b-p.t)
    .attr("fill","none").attr("stroke",ink).attr("stroke-width",1.2);
}
function letter(t,cx,cy){
  svg.append("text").attr("x",cx).attr("y",cy).attr("text-anchor","middle").attr("dominant-baseline","central")
    .attr("font-size",19).text(t);
}
function yTitle(lines,cx,cy){
  const t = svg.append("text").attr("transform",`translate(${cx},${cy}) rotate(-90)`).attr("text-anchor","middle").attr("font-size",17.5);
  lines.forEach((s,i)=>t.append("tspan").attr("x",0).attr("dy", i===0 ? (-(lines.length-1)*0.55+0.35)+"em" : "1.1em").text(s));
}

// ---- Panel a ----
{
  const g = svg.append("g").attr("clip-path","url(#ca)");
  g.selectAll(".bs").data(blueSpans).join("line")
    .attr("x1",d=>xa(d[0])).attr("x2",d=>xa(d[0])).attr("y1",d=>ya(d[1])).attr("y2",d=>ya(d[2]))
    .attr("stroke",blue).attr("stroke-width",1.6);
  g.selectAll(".rs").data(redSpans).join("line")
    .attr("x1",d=>xa(d[0])).attr("x2",d=>xa(d[0])).attr("y1",d=>ya(d[1])).attr("y2",d=>ya(d[2]))
    .attr("stroke",red).attr("stroke-width",1.6);
  g.selectAll(".bd").data(blueDots).join("rect")
    .attr("x",d=>xa(d[0])-0.9).attr("y",d=>ya(d[1])-0.9).attr("width",1.8).attr("height",1.8).attr("fill",blue).attr("opacity",0.85);
  g.selectAll(".rd").data(redDots).join("rect")
    .attr("x",d=>xa(d[0])-0.9).attr("y",d=>ya(d[1])-0.9).attr("width",1.8).attr("height",1.8).attr("fill",red).attr("opacity",0.8);
  g.append("line").attr("x1",xa(1749)).attr("x2",xa(1798.4)).attr("y1",ya(0)-0.6).attr("y2",ya(0)-0.6).attr("stroke",red).attr("stroke-width",0.8).attr("opacity",0.6);

  svg.append("g").attr("transform",`translate(0,${pa.t})`)
    .call(d3.axisTop(xa).tickValues(yearTicks).tickFormat(d3.format("d")).tickSize(-4).tickPadding(10))
    .call(g=>styleAxis(g,17));
  svg.append("g").attr("transform",`translate(${pa.l},0)`)
    .call(d3.axisLeft(ya).tickValues([5,10,15,20]).tickSize(4).tickPadding(2))
    .call(g=>styleAxis(g,17));
  svg.append("g").attr("transform",`translate(${pa.r},0)`)
    .call(d3.axisRight(ya).tickValues([5,10,15,20]).tickSize(-4).tickFormat(""))
    .call(g=>styleAxis(g,17));
  frame(pa);
  yTitle(["Sunspot counts"],16,146);
  letter("a",24,34);
}

// ---- Panel b ----
{
  const g = svg.append("g").attr("clip-path","url(#cb)");
  const ln = d3.line().x(d=>x(d[0])).y(d=>yb(d[1]));
  [[totalCounts,ink],[northCounts,blue],[southCounts,red]].forEach(([runs,col])=>{
    g.append("g").selectAll("path").data(runs).join("path")
      .attr("d",ln).attr("fill","none").attr("stroke",col).attr("stroke-width",1.2).attr("stroke-linejoin","round");
  });
  svg.append("g").selectAll("text").data(cycleLabels).join("text")
    .attr("x",d=>x(d[1])).attr("y",321).attr("text-anchor","middle").attr("dominant-baseline","central")
    .attr("font-size",17).attr("font-weight","bold").text(d=>d[0]);
  svg.append("g").attr("transform",`translate(0,${pb.b})`)
    .call(d3.axisBottom(x).tickValues(innerYearTicks).tickSize(-5).tickFormat(""))
    .call(g=>styleAxis(g,17));
  svg.append("g").attr("transform",`translate(${pb.l},0)`)
    .call(d3.axisLeft(yb).tickValues([0,5,10,15]).tickSize(5).tickPadding(6))
    .call(g=>styleAxis(g,17));
  svg.append("g").attr("transform",`translate(${pb.r},0)`)
    .call(d3.axisRight(yb).tickValues([0,5,10,15]).tickSize(-5).tickFormat(""))
    .call(g=>styleAxis(g,17));
  frame(pb);
  yTitle(["Sunspot counts"],42,401);
  letter("b",24,267);
}

// ---- Panel c ----
{
  const g = svg.append("g").attr("clip-path","url(#cc)");
  g.append("g").selectAll("rect").data(greyBlocks).join("rect")
    .attr("x",d=>x(d[0])).attr("y",d=>yc(d[3])).attr("width",d=>x(d[1])-x(d[0])).attr("height",d=>yc(d[2])-yc(d[3]))
    .attr("fill",grey);
  const ln = d3.line().x(d=>x(d[0])).y(d=>yc(d[1]));
  g.append("g").selectAll("path").data(greyCurves).join("path")
    .attr("d",ln).attr("fill","none").attr("stroke",grey).attr("stroke-width",2.2).attr("stroke-linejoin","round");
  svg.append("line").attr("x1",x(diagonalYears[0])).attr("y1",yc(diagonalYears[0]))
    .attr("x2",x(diagonalYears[1])).attr("y2",yc(diagonalYears[1])).attr("stroke",ink).attr("stroke-width",0.9);
  g.append("g").selectAll("path").data(matchPath).join("path")
    .attr("d",d=> d.length>1 ? ln(d) : `M${x(d[0][0])},${yc(d[0][1])}l0.01,0`)
    .attr("fill","none").attr("stroke","#1a1a1a").attr("stroke-linecap","round").attr("stroke-linejoin","round")
    .attr("stroke-width",(d)=> d.length>1 ? 6.2 : 4.5);
  svg.append("g").attr("transform",`translate(0,${pc.t})`)
    .call(d3.axisTop(x).tickValues(innerYearTicks).tickSize(5).tickFormat(""))
    .call(g=>styleAxis(g,17));
  svg.append("g").attr("transform",`translate(0,${pc.b})`)
    .call(d3.axisBottom(x).tickValues(innerYearTicks).tickSize(5).tickFormat(""))
    .call(g=>styleAxis(g,17));
  svg.append("g").attr("transform",`translate(${pc.l},0)`)
    .call(d3.axisLeft(yc).tickValues(innerYearTicks).tickSize(5).tickPadding(9).tickFormat(d3.format("d")))
    .call(g=>styleAxis(g,17));
  svg.append("g").attr("transform",`translate(${pc.r},0)`)
    .call(d3.axisRight(yc).tickValues(innerYearTicks).tickSize(5).tickFormat(""))
    .call(g=>styleAxis(g,17));
  frame(pc);
  yTitle(["Year"],17,753);
  letter("c",23,509);
}

// ---- Panel d ----
{
  const g = svg.append("g").attr("clip-path","url(#cd)");
  g.append("line").attr("x1",pd.l).attr("x2",pd.r).attr("y1",yd(0)).attr("y2",yd(0))
    .attr("stroke","#555").attr("stroke-width",0.9).attr("stroke-dasharray","2,2");
  const eg = g.append("g").attr("stroke",errGrey).attr("stroke-width",1);
  losErrors.forEach(d=>{
    eg.append("line").attr("x1",x(d[0])).attr("x2",x(d[0])).attr("y1",yd(d[1])).attr("y2",yd(d[2]));
    eg.append("line").attr("x1",x(d[0])-4).attr("x2",x(d[0])+4).attr("y1",yd(d[1])).attr("y2",yd(d[1]));
    eg.append("line").attr("x1",x(d[0])-4).attr("x2",x(d[0])+4).attr("y1",yd(d[2])).attr("y2",yd(d[2]));
  });
  const ln = d3.line().x(d=>x(d[0])).y(d=>yd(d[1]));
  g.append("g").selectAll("path").data(losRuns).join("path")
    .attr("d",ln).attr("fill","none").attr("stroke","#222").attr("stroke-width",3.6).attr("stroke-dasharray","1.5,1.9");
  g.append("g").selectAll("rect").data(losSingles).join("rect")
    .attr("x",d=>x(d[0])-1.8).attr("y",d=>yd(d[1])-0.8).attr("width",3.6).attr("height",1.6).attr("fill","#222");
  svg.append("g").attr("transform",`translate(0,${pd.t})`)
    .call(d3.axisTop(x).tickValues(innerYearTicks).tickSize(-4).tickFormat(""))
    .call(g=>styleAxis(g,17));
  svg.append("g").attr("transform",`translate(0,${pd.b})`)
    .call(d3.axisBottom(x).tickValues(innerYearTicks).tickSize(-4).tickFormat(""))
    .call(g=>styleAxis(g,17));
  svg.append("g").attr("transform",`translate(${pd.l},0)`)
    .call(d3.axisLeft(yd).tickValues([-20,-10,0,10,20]).tickSize(4).tickPadding(4))
    .call(g=>styleAxis(g,17));
  svg.append("g").attr("transform",`translate(${pd.l},0)`)
    .call(d3.axisLeft(yd).tickValues([-15,-5,5,15]).tickSize(4).tickFormat(""))
    .call(g=>styleAxis(g,17));
  svg.append("g").attr("transform",`translate(${pd.r},0)`)
    .call(d3.axisRight(yd).tickValues([-20,-15,-10,-5,0,5,10,15,20]).tickSize(-4).tickFormat(""))
    .call(g=>styleAxis(g,17));
  frame(pd);
  yTitle(["LOS (Months)"],43,1157);
  letter("d",24,1052);
}

// ---- Panel e ----
{
  const g = svg.append("g").attr("clip-path","url(#ce)");
  g.append("line").attr("x1",pe.l).attr("x2",pe.r).attr("y1",ye(0)).attr("y2",ye(0))
    .attr("stroke","#555").attr("stroke-width",0.9).attr("stroke-dasharray","2,2");
  const eg = g.append("g").attr("stroke",errGrey).attr("stroke-width",1.1);
  latErrors.forEach(d=>{
    eg.append("line").attr("x1",x(d[0])).attr("x2",x(d[0])).attr("y1",ye(d[1])).attr("y2",ye(d[2]));
    eg.append("line").attr("x1",x(d[0])-4.5).attr("x2",x(d[0])+4.5).attr("y1",ye(d[1])).attr("y2",ye(d[1]));
    eg.append("line").attr("x1",x(d[0])-4.5).attr("x2",x(d[0])+4.5).attr("y1",ye(d[2])).attr("y2",ye(d[2]));
  });
  const ln = d3.line().x(d=>x(d[0])).y(d=>ye(d[1]));
  g.append("g").selectAll("path").data(latRuns).join("path")
    .attr("d",ln).attr("fill","none").attr("stroke","#1a1a1a").attr("stroke-width",1.6).attr("stroke-linejoin","round");
  g.append("g").selectAll("circle").data(latRuns.flat()).join("circle")
    .attr("cx",d=>x(d[0])).attr("cy",d=>ye(d[1])).attr("r",2.1).attr("fill","#1a1a1a");
  svg.append("g").attr("transform",`translate(0,${pe.t})`)
    .call(d3.axisTop(x).tickValues(innerYearTicks).tickSize(-5).tickFormat(""))
    .call(g=>styleAxis(g,17));
  svg.append("g").attr("transform",`translate(0,${pe.b})`)
    .call(d3.axisBottom(x).tickValues(yearTicks).tickSize(-6).tickPadding(9).tickFormat(d3.format("d")))
    .call(g=>styleAxis(g,17));
  svg.append("g").attr("transform",`translate(${pe.l},0)`)
    .call(d3.axisLeft(ye).tickValues([-15,-10,-5,0,5,10]).tickSize(4).tickPadding(2))
    .call(g=>styleAxis(g,17));
  svg.append("g").attr("transform",`translate(${pe.r},0)`)
    .call(d3.axisRight(ye).tickValues([-15,-10,-5,0,5,10]).tickSize(-4).tickFormat(""))
    .call(g=>styleAxis(g,17));
  frame(pe);
  yTitle(["Latitude difference","(degree)"],41,1352);
  letter("e",24,1243);
  svg.append("text").attr("x",325).attr("y",1508).attr("text-anchor","middle")
    .attr("font-size",17).text("Year");
}

// dotted divider across panels b-e
svg.append("line").attr("x1",x(dividerYear)).attr("x2",x(dividerYear)).attr("y1",pb.t+1).attr("y2",pe.b)
  .attr("stroke","#444").attr("stroke-width",1).attr("stroke-dasharray","2.5,2.5");
</script></body></html>
